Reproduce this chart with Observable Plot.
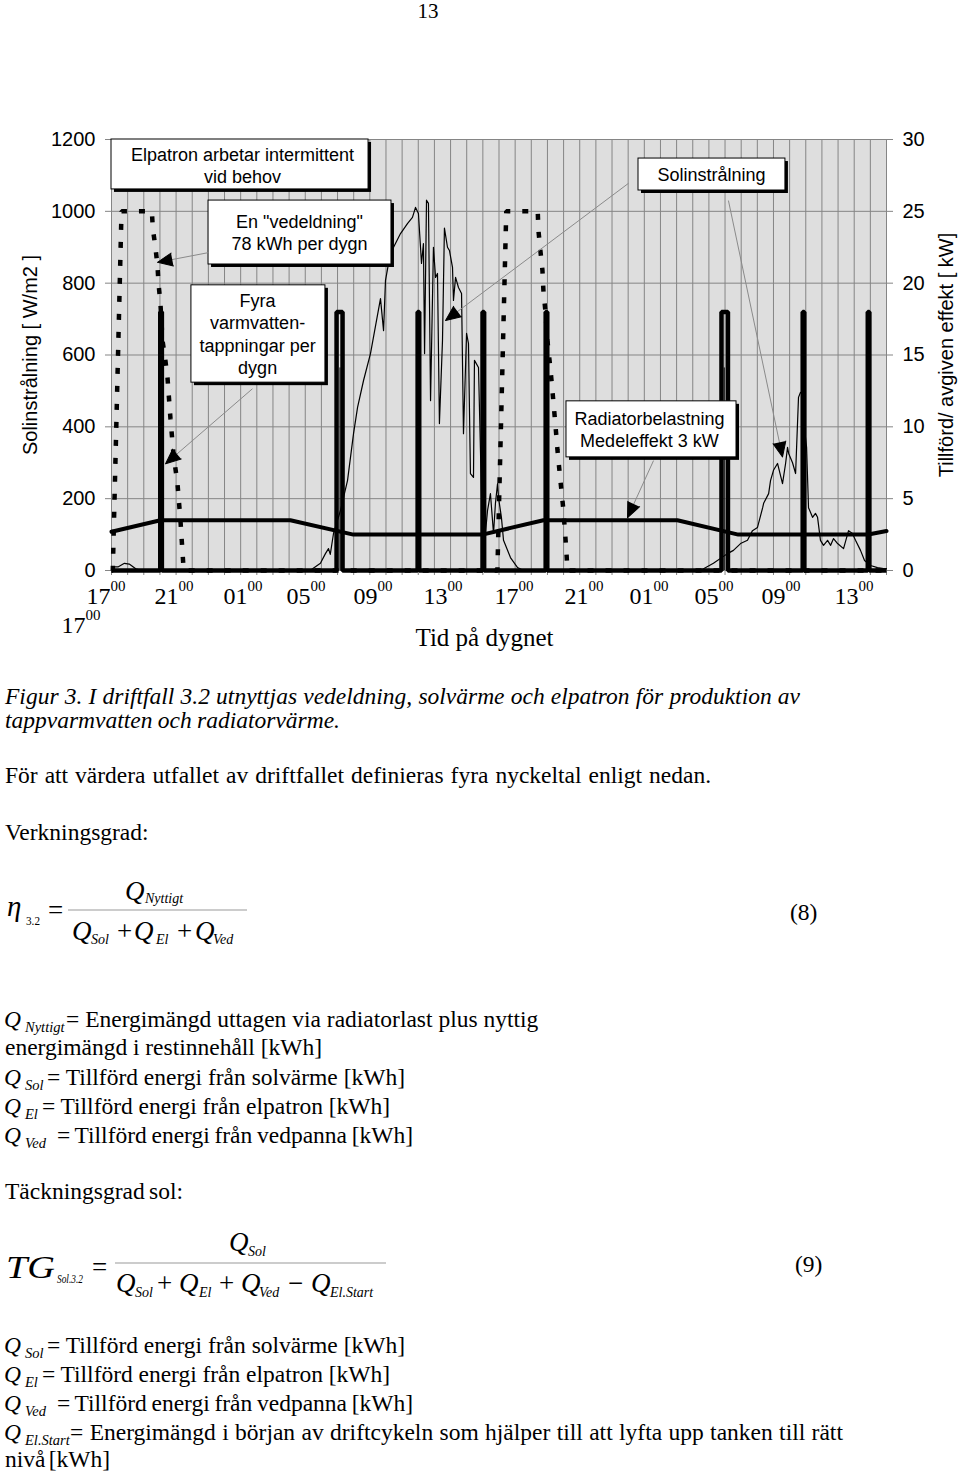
<!DOCTYPE html>
<html><head><meta charset="utf-8">
<script src="https://cdn.jsdelivr.net/npm/d3@7"></script>
<script src="https://cdn.jsdelivr.net/npm/@observablehq/plot@0.6"></script>
<style>
html,body{margin:0;padding:0;background:#fff;width:960px;height:1471px;overflow:hidden}
#chart{position:absolute;left:0;top:0}
#txt{position:absolute;left:0;top:0}
</style></head><body>
<div id="chart"></div>
<svg id="txt" width="960" height="1471" font-family="'Liberation Serif','Times New Roman',Times,serif" fill="#000">
<text x="428" y="18" font-size="21" text-anchor="middle">13</text>
<text x="5" y="704" font-size="23.5" font-style="italic" data-w="795">Figur 3. I driftfall 3.2 utnyttjas vedeldning, solvärme och elpatron för produktion av</text>
<text x="5" y="728" font-size="23.5" font-style="italic" data-w="335">tappvarmvatten och radiatorvärme.</text>
<text x="5" y="783" font-size="23.5" data-w="706">För att värdera utfallet av driftfallet definieras fyra nyckeltal enligt nedan.</text>
<text x="5" y="840" font-size="23.5">Verkningsgrad:</text>

<text x="7" y="916" font-size="29" font-style="italic">η</text>
<text x="26" y="925" font-size="13" textLength="14" lengthAdjust="spacingAndGlyphs">3.2</text>
<text x="48" y="919" font-size="27">=</text>
<line x1="68" y1="910" x2="247" y2="910" stroke="#999" stroke-width="1"/>
<text x="125" y="900" font-size="27" font-style="italic">Q</text>
<text x="145" y="903" font-size="14" font-style="italic">Nyttigt</text>
<text x="72" y="940" font-size="27" font-style="italic">Q</text>
<text x="91" y="944" font-size="14" font-style="italic">Sol</text>
<text x="117" y="940" font-size="27">+</text>
<text x="134" y="940" font-size="27" font-style="italic">Q</text>
<text x="156" y="944" font-size="14" font-style="italic">El</text>
<text x="177" y="940" font-size="27">+</text>
<text x="195" y="940" font-size="27" font-style="italic">Q</text>
<text x="213" y="944" font-size="14" font-style="italic">Ved</text>
<text x="790" y="920" font-size="23.5">(8)</text>

<text x="4" y="1027" font-size="23.5" font-style="italic">Q</text>
<text x="25" y="1032" font-size="14.5" font-style="italic">Nyttigt</text>
<text x="66" y="1027" font-size="23.5">= Energimängd uttagen via radiatorlast plus nyttig</text>
<text x="5" y="1055" font-size="23.5" data-w="317">energimängd i restinnehåll [kWh]</text>
<text x="4" y="1085" font-size="23.5" font-style="italic">Q</text>
<text x="25" y="1090" font-size="14.5" font-style="italic">Sol</text>
<text x="47" y="1085" font-size="23.5" data-w="358">= Tillförd energi från solvärme [kWh]</text>
<text x="4" y="1114" font-size="23.5" font-style="italic">Q</text>
<text x="25" y="1119" font-size="14.5" font-style="italic">El</text>
<text x="42" y="1114" font-size="23.5" data-w="348">= Tillförd energi från elpatron [kWh]</text>
<text x="4" y="1143" font-size="23.5" font-style="italic">Q</text>
<text x="25" y="1148" font-size="14.5" font-style="italic">Ved</text>
<text x="57" y="1143" font-size="23.5" data-w="356">= Tillförd energi från vedpanna [kWh]</text>
<text x="5" y="1199" font-size="23.5" data-w="178">Täckningsgrad sol:</text>

<text x="6" y="1278" font-size="32" font-style="italic" textLength="49" lengthAdjust="spacingAndGlyphs">TG</text>
<text x="57" y="1283" font-size="13" font-style="italic" textLength="26" lengthAdjust="spacingAndGlyphs">Sol.3.2</text>
<text x="92" y="1276" font-size="27">=</text>
<line x1="115" y1="1263" x2="386" y2="1263" stroke="#999" stroke-width="1"/>
<text x="229" y="1251" font-size="27" font-style="italic">Q</text>
<text x="248" y="1256" font-size="14" font-style="italic">Sol</text>
<text x="116" y="1292" font-size="27" font-style="italic">Q</text>
<text x="135" y="1297" font-size="14" font-style="italic">Sol</text>
<text x="157" y="1292" font-size="27">+</text>
<text x="179" y="1292" font-size="27" font-style="italic">Q</text>
<text x="199" y="1297" font-size="14" font-style="italic">El</text>
<text x="219" y="1292" font-size="27">+</text>
<text x="241" y="1292" font-size="27" font-style="italic">Q</text>
<text x="259" y="1297" font-size="14" font-style="italic">Ved</text>
<text x="288" y="1292" font-size="27">−</text>
<text x="311" y="1292" font-size="27" font-style="italic">Q</text>
<text x="330" y="1297" font-size="14" font-style="italic">El.Start</text>
<text x="795" y="1272" font-size="23.5">(9)</text>

<text x="4" y="1353" font-size="23.5" font-style="italic">Q</text>
<text x="25" y="1358" font-size="14.5" font-style="italic">Sol</text>
<text x="47" y="1353" font-size="23.5" data-w="358">= Tillförd energi från solvärme [kWh]</text>
<text x="4" y="1382" font-size="23.5" font-style="italic">Q</text>
<text x="25" y="1387" font-size="14.5" font-style="italic">El</text>
<text x="42" y="1382" font-size="23.5" data-w="348">= Tillförd energi från elpatron [kWh]</text>
<text x="4" y="1411" font-size="23.5" font-style="italic">Q</text>
<text x="25" y="1416" font-size="14.5" font-style="italic">Ved</text>
<text x="57" y="1411" font-size="23.5" data-w="356">= Tillförd energi från vedpanna [kWh]</text>
<text x="4" y="1440" font-size="23.5" font-style="italic">Q</text>
<text x="25" y="1445" font-size="14.5" font-style="italic">El.Start</text>
<text x="70" y="1440" font-size="23.5" data-w="773">= Energimängd i början av driftcykeln som hjälper till att lyfta upp tanken till rätt</text>
<text x="5" y="1467" font-size="23.5" data-w="105">nivå [kWh]</text>
</svg>
<script>
// ---------- data (time t in hours after 17:00 of day 1) ----------
const hourTicks = d3.range(0, 49);                 // one grid line per hour
const wTicks = [0, 200, 400, 600, 800, 1000, 1200]; // W/m2 ticks (left axis)
const KW = 40;                                      // 30 kW (right axis) <-> 1200 W/m2

const xLabels = ["17","21","01","05","09","13","17","21","01","05","09","13"];
const xLabelPos = [-0.06, 4.15, 8.42, 12.33, 16.48, 20.81, 25.21, 29.55, 33.57, 37.6, 41.75, 46.27];
const xWrapLabel = "17";
const xWrapPos = -1.61;
const xSup = "00";

// Solar radiation [W/m2]
const solarT = [0,0.4,0.8,1.1,1.5,1.9,12.3,12.94,13.25,13.44,13.55,13.75,14.18,14.62,14.99,15.24,15.61,16.04,16.66,16.85,16.97,17.16,17.47,17.9,18.33,18.64,18.83,19.01,19.2,19.32,19.39,19.51,19.63,19.76,19.94,20.07,20.19,20.31,20.5,20.62,20.81,20.93,21.12,21.18,21.31,21.49,21.68,21.8,21.99,22.11,22.23,22.42,22.48,22.73,22.98,23.1,23.29,23.47,23.66,23.78,23.91,23.97,24.15,24.28,24.71,25.15,25.52,36.48,36.67,37.28,38.15,38.52,38.96,39.39,39.7,40.01,40.33,40.39,40.7,40.82,41.0,41.25,41.56,41.75,41.87,41.94,42.18,42.37,42.55,42.67,42.74,42.86,43.05,43.17,43.42,43.6,43.73,43.91,44.1,44.35,44.54,44.72,44.97,45.34,45.65,45.89,46.08,46.39,46.64,47.01,47.44,47.81,48];
const solarW = [10,10,20,18,5,0,0,20,47,61,45,103,167,251,381,454,529,604,757,668,808,855,900,938,966,983,1011,994,855,910,604,1031,1022,473,900,816,827,409,640,953,900,891,844,752,816,788,771,381,660,632,270,259,585,565,92,75,167,214,103,187,242,203,148,84,36,8,0,0,5,20,47,56,75,84,111,120,175,187,214,251,279,298,242,298,343,326,300,270,482,496,493,420,343,175,148,159,148,84,70,84,70,89,75,61,111,103,84,56,28,14,8,5,5];

// Radiator load [kW]
const radT  = [0, 3.03, 11.08, 14.98, 22.97, 26.75, 35.05, 38.82, 46.87, 48];
const radKW = [2.7, 3.5, 3.5, 2.5, 2.5, 3.5, 3.5, 2.5, 2.5, 2.75];

// Wood firing [kW] (dotted)
const vedT  = [0,0.08,0.62,2.5,2.56,2.72,2.85,2.91,3.03,3.16,3.34,3.47,3.65,3.84,4.09,4.27,4.46,4.52,
               23.9,24.45,26.4,26.44,26.56,26.69,26.75,26.87,27.0,27.18,27.31,27.49,27.62,27.8,27.99,28.17,28.24,48];
const vedKW = [0,0,25,25,23.8,22.5,21.2,20,18.6,16,14.6,13.4,10.6,8.1,6.0,3.5,0.2,0,
               0,25,25,23.7,22.3,20.9,19.5,18.1,16.0,14.1,12.5,10.2,8.4,6.3,4.2,1.4,0,0];

// Hot water tappings [kW] (thick)
const tappT  = [0, 3.02,3.02,3.12,3.12, 13.94,13.94,14.31,14.31, 18.96,18.96,19.06,19.06, 22.98,22.98,23.08,23.08,
                26.89,26.89,26.99,26.99, 37.78,37.78,38.18,38.18, 42.81,42.81,42.91,42.91, 46.84,46.84,46.94,46.94, 48];
const tappKW = [0, 0,18,18,0, 0,18,18,0, 0,18,18,0, 0,18,18,0,
                0,18,18,0, 0,18,18,0, 0,18,18,0, 0,18,18,0, 0];

// Electric heater (thin) [kW]
const elT  = [14.15, 37.95];
const elKW = [14.1, 14.1];

// Annotations (data units: hours, W/m2)
const boxLabel = ["Elpatron arbetar intermittent\nvid behov", "En \"vedeldning\"\n78 kWh per dygn", "Fyra\nvarmvatten-\ntappningar per\ndygn", "Solinstrålning", "Radiatorbelastning\nMedeleffekt 3 kW"];
const boxT1 = [0, 6.01, 4.95, 32.64, 28.18];
const boxT2 = [15.92, 17.34, 13.25, 41.74, 38.71];
const boxV1 = [1061, 852, 523, 1058, 315];
const boxV2 = [1200, 1030, 794, 1147, 471];
const boxTx = [8.11, 11.64, 9.05, 37.16, 33.32];
const boxVx = [1130, 942, 660, 1105, 395];

const arrowT1 = [6.0, 8.73, 32.02, 38.21, 33.57];
const arrowV1 = [885, 506, 1078, 1030, 306];
const arrowT2 = [2.85, 3.35, 20.69, 41.56, 31.96];
const arrowV2 = [858, 297, 696, 316, 147];

// ---------- layout ----------
const W = 960, H = 660, ML = 111, MR = 74, MT = 139, MB = 90;
const serif = "Liberation Serif, Times New Roman, serif";
const sans = "Liberation Sans, Arial, sans-serif";
const pxX = t => ML + t / 48 * (W - ML - MR);
const pxY = v => MT + (1200 - v) / 1200 * (H - MT - MB);

const solar = solarT.map((t, i) => ({t, v: solarW[i]}));
const rad = radT.map((t, i) => ({t, v: radKW[i] * KW}));
const ved = vedT.map((t, i) => ({t, v: vedKW[i] * KW}));
const tapp = tappT.map((t, i) => ({t, v: tappKW[i] * KW}));
const el = elT.map((t, i) => ({t, v: elKW[i] * KW}));
const boxes = boxLabel.map((label, i) => ({label, t1: boxT1[i], t2: boxT2[i], v1: boxV1[i], v2: boxV2[i], tx: boxTx[i], vx: boxVx[i]}));
const arrows = arrowT1.map((t1, i) => {
  const t2 = arrowT2[i], v1 = arrowV1[i], v2 = arrowV2[i];
  const dx = pxX(t2) - pxX(t1), dy = pxY(v2) - pxY(v1);
  return {t1, v1, t2, v2, angle: Math.atan2(dx, -dy) * 180 / Math.PI};
});
const xLab = xLabels.map((label, i) => ({t: xLabelPos[i], label}));
const xWrap = [{t: xWrapPos, label: xWrapLabel}];

const gray = "#858585";
const plot = Plot.plot({
  width: W, height: H, marginLeft: ML, marginRight: MR, marginTop: MT, marginBottom: MB,
  x: {domain: [0, 48], label: null},
  y: {domain: [0, 1200], label: null},
  style: {fontFamily: sans, fontSize: "20px", background: "transparent", color: "black", overflow: "visible"},
  marks: [
    Plot.frame({fill: "#dedede", stroke: "none"}),
    Plot.gridX(hourTicks, {stroke: gray, strokeOpacity: 1, strokeWidth: 1}),
    Plot.gridY(wTicks, {stroke: gray, strokeOpacity: 1, strokeWidth: 1}),
    Plot.axisY(wTicks, {anchor: "left", tickSize: 6, tickPadding: 10, stroke: gray, label: null, fontSize: 20, tickFormat: d => String(d)}),
    Plot.axisY(wTicks, {anchor: "right", tickSize: 6, tickPadding: 10, stroke: gray, label: null, fontSize: 20, tickFormat: d => String(d / KW)}),
    Plot.axisX(hourTicks, {anchor: "bottom", tickSize: 5, stroke: gray, label: null, tickFormat: () => ""}),
    Plot.line(solar, {x: "t", y: "v", stroke: "black", strokeWidth: 1.2}),
    Plot.line(rad, {x: "t", y: "v", stroke: "black", strokeWidth: 4}),
    Plot.line(tapp, {x: "t", y: "v", stroke: "black", strokeWidth: 4.5, strokeLinejoin: "miter", strokeLinecap: "butt"}),
    Plot.ruleX(el, {x: "t", y1: 0, y2: "v", stroke: "black", strokeWidth: 1}),
    Plot.line(ved, {x: "t", y: "v", stroke: "black", strokeWidth: 4.5, strokeDasharray: "6,12", strokeLinecap: "butt", strokeLinejoin: "miter"}),
    Plot.rect(boxes, {x1: "t1", x2: "t2", y1: "v1", y2: "v2", fill: "black", dx: 3, dy: 3}),
    Plot.rect(boxes, {x1: "t1", x2: "t2", y1: "v1", y2: "v2", fill: "white", stroke: "black", strokeWidth: 1}),
    Plot.text(boxes, {x: "tx", y: "vx", text: "label", fontSize: 18, fontFamily: sans, lineHeight: 1.23, textAnchor: "middle"}),
    Plot.link(arrows, {x1: "t1", y1: "v1", x2: "t2", y2: "v2", stroke: "#8a8a8a", strokeWidth: 1}),
    Plot.vector(arrows, {x: "t2", y: "v2", rotate: "angle", length: 15, r: 6.5, anchor: "end", shape: "spike", fill: "black", stroke: "black", strokeWidth: 1}),
    Plot.text(xLab, {x: "t", text: "label", frameAnchor: "bottom", dy: 33, lineAnchor: "bottom", textAnchor: "end", fontFamily: serif, fontSize: 24}),
    Plot.text(xLab, {x: "t", text: () => xSup, frameAnchor: "bottom", dy: 20, lineAnchor: "bottom", textAnchor: "start", fontFamily: serif, fontSize: 15}),
    Plot.text(xWrap, {x: "t", text: "label", frameAnchor: "bottom", dy: 62, lineAnchor: "bottom", textAnchor: "end", fontFamily: serif, fontSize: 24}),
    Plot.text(xWrap, {x: "t", text: () => xSup, frameAnchor: "bottom", dy: 49, lineAnchor: "bottom", textAnchor: "start", fontFamily: serif, fontSize: 15}),
    Plot.text(["Tid på dygnet"], {x: 23.1, frameAnchor: "bottom", dy: 75, lineAnchor: "bottom", textAnchor: "middle", fontFamily: serif, fontSize: 25}),
    Plot.text(["Solinstrålning [ W/m2 ]"], {frameAnchor: "left", dx: -81, rotate: -90, textAnchor: "middle", lineAnchor: "middle", fontSize: 20, fontFamily: sans}),
    Plot.text(["Tillförd/ avgiven effekt [ kW]"], {frameAnchor: "right", dx: 60, rotate: -90, textAnchor: "middle", lineAnchor: "middle", fontSize: 20, fontFamily: sans})
  ]
});
document.getElementById("chart").appendChild(plot);

// Fit the text lines to the widths measured on the page (stretch/shrink word spacing only)
document.querySelectorAll("#txt text[data-w]").forEach(el => {
  const target = +el.getAttribute("data-w");
  const natural = el.getComputedTextLength();
  const spaces = (el.textContent.match(/ /g) || []).length;
  if (spaces > 0) el.style.wordSpacing = ((target - natural) / spaces).toFixed(2) + "px";
});
</script>
</body></html>
